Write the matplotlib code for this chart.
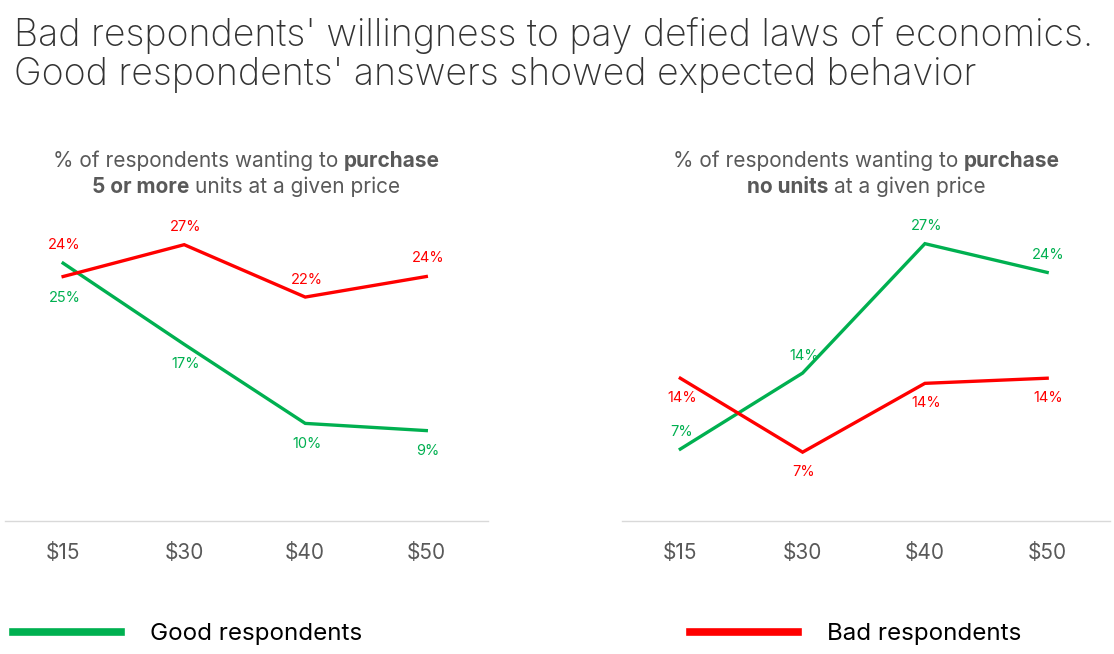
import matplotlib
matplotlib.use("Agg")
import matplotlib.pyplot as plt
from matplotlib.lines import Line2D

plt.rcParams['font.family'] = ['Inter', 'DejaVu Sans']

prices = ['$15', '$30', '$40', '$50']

# left panel: want 5+ units
left_good = [25.1, 17.2, 9.5, 8.8]
left_good_lbl = ['25%', '17%', '10%', '9%']
left_bad = [23.8, 26.9, 21.8, 23.8]
left_bad_lbl = ['24%', '27%', '22%', '24%']

# right panel: want no units
right_good = [7.0, 14.4, 27.0, 24.2]
right_good_lbl = ['7%', '14%', '27%', '24%']
right_bad = [13.9, 6.7, 13.4, 13.9]
right_bad_lbl = ['14%', '7%', '14%', '14%']

# label offsets in points (vertical)
left_good_off = [-25, -14, -14.5, -14.5]
left_bad_off = [23, 13, 12.5, 13]
right_good_off = [12.5, 12.5, 12.5, 12.5]
right_bad_off = [-14.5, -14.5, -14.5, -14.5]

GREEN = '#00B050'
RED = '#FF0000'
GREY = '#595959'

fig = plt.figure(figsize=(11.14, 6.54), dpi=100)

fig.text(0.0126, 0.945, "Bad respondents' willingness to pay defied laws of economics.",
         fontsize=27, fontweight='light', color='#333333', va='center')
fig.text(0.0126, 0.885, "Good respondents' answers showed expected behavior",
         fontsize=27, fontweight='light', color='#333333', va='center')

ax1 = fig.add_axes([0.0045, 0.2034, 0.4336, 0.468])
ax2 = fig.add_axes([0.558, 0.2034, 0.438, 0.468])


def draw_panel(ax, good, good_lbl, good_off, bad, bad_lbl, bad_off):
    x = range(len(prices))
    ax.plot(x, good, color=GREEN, lw=2.4, solid_joinstyle='miter')
    ax.plot(x, bad, color=RED, lw=2.4, solid_joinstyle='miter')
    for i in x:
        ax.annotate(good_lbl[i], (i, good[i]), xytext=(1, good_off[i]), textcoords='offset points',
                    ha='center', va='center', color=GREEN, fontsize=10.5)
        ax.annotate(bad_lbl[i], (i, bad[i]), xytext=(1, bad_off[i]), textcoords='offset points',
                    ha='center', va='center', color=RED, fontsize=10.5)
    ax.set_xlim(-0.48, 3.51)
    ax.set_ylim(0, 29.8)
    ax.set_xticks(list(x))
    ax.set_xticklabels(prices, fontsize=15, color=GREY)
    ax.tick_params(axis='x', length=0, pad=16)
    ax.set_yticks([])
    for s in ['top', 'right', 'left']:
        ax.spines[s].set_visible(False)
    ax.spines['bottom'].set_color('#d9d9d9')
    ax.spines['bottom'].set_linewidth(1)
    ax.patch.set_alpha(0)


draw_panel(ax1, left_good, left_good_lbl, left_good_off, left_bad, left_bad_lbl, left_bad_off)
draw_panel(ax2, right_good, right_good_lbl, right_good_off, right_bad, right_bad_lbl, right_bad_off)

renderer = fig.canvas.get_renderer()


def rich_line(xc, yc, parts, size=15):
    # parts: list of (text, weight); centre them on xc (figure fraction)
    W = fig.bbox.width
    probe = fig.text(0, 0, 'x x', fontsize=size)
    probe2 = fig.text(0, 0, 'xx', fontsize=size)
    sp = probe.get_window_extent(renderer).width - probe2.get_window_extent(renderer).width
    probe.remove()
    probe2.remove()
    items = []
    for txt, wt in parts:
        t = fig.text(0, yc, txt, fontsize=size, fontweight=wt, color=GREY, va='center', ha='left')
        items.append(t)
    widths = [t.get_window_extent(renderer).width for t in items]
    total = sum(widths) + sp * (len(items) - 1)
    xpix = xc * W - total / 2
    for t, w in zip(items, widths):
        t.set_x(xpix / W)
        xpix += w + sp


for xc, lines in [
    (0.221, [[('% of respondents wanting to', 'normal'), ('purchase', 'bold')],
             [('5 or more', 'bold'), ('units at a given price', 'normal')]]),
    (0.7775, [[('% of respondents wanting to', 'normal'), ('purchase', 'bold')],
              [('no units', 'bold'), ('at a given price', 'normal')]]),
]:
    rich_line(xc, 1 - 161 / 654, lines[0])
    rich_line(xc, 1 - 187 / 654, lines[1])

good_h = Line2D([], [], color=GREEN, lw=5.5)
bad_h = Line2D([], [], color=RED, lw=5.5)
fig.legend(handles=[good_h], labels=['Good respondents'], loc='center left',
           bbox_to_anchor=(0.003, 1 - 634 / 654), frameon=False, fontsize=17.4,
           handlelength=4.45, handletextpad=1.2, borderaxespad=0, borderpad=0.4)
fig.legend(handles=[bad_h], labels=['Bad respondents'], loc='center left',
           bbox_to_anchor=(0.611, 1 - 634 / 654), frameon=False, fontsize=17.4,
           handlelength=4.45, handletextpad=1.2, borderaxespad=0, borderpad=0.4)

fig.savefig('out.png', dpi=100)
